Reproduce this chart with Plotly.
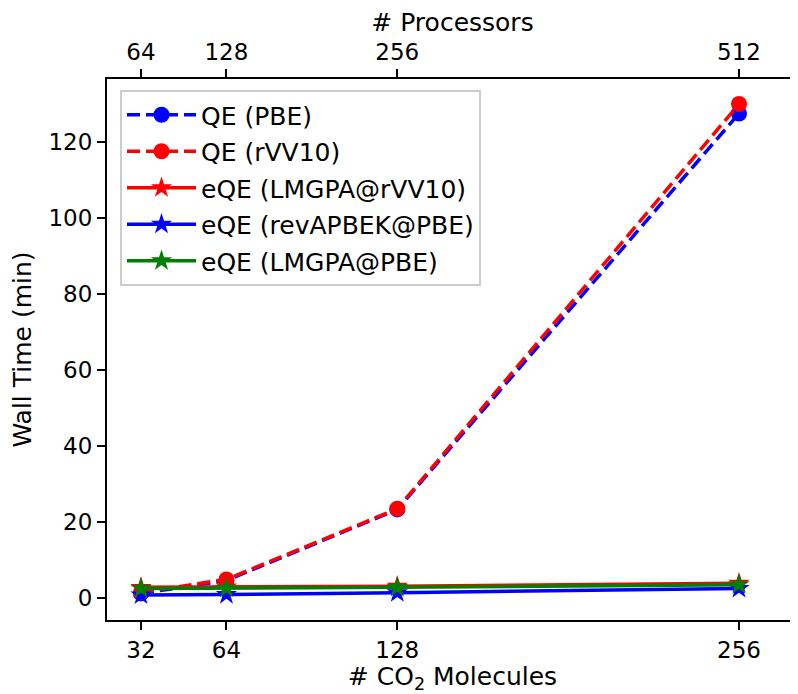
import plotly.graph_objects as go

# Data
molecules = [32, 64, 128, 256]
processors = ["64", "128", "256", "512"]
qe_pbe = [1.2, 4.6, 23.3, 127.5]
qe_rvv10 = [1.5, 4.9, 23.5, 130.0]
eqe_lmgpa_rvv10 = [2.8, 2.9, 3.1, 3.9]
eqe_revapbek_pbe = [0.8, 0.9, 1.4, 2.5]
eqe_lmgpa_pbe = [2.5, 2.6, 2.8, 3.5]

FONT = "DejaVu Sans"
FS = 23
FS_T = 25
LW = 3.5
DASH = "13px,6px"

fig = go.Figure()

def add(y, name, color, dashed, symbol, msize, group):
    fig.add_trace(go.Scatter(
        x=molecules, y=y, name=name, mode="lines+markers",
        line=dict(color=color, width=LW, dash=DASH if dashed else "solid"),
        marker=dict(color=color, symbol=symbol, size=msize, line=dict(width=0)),
        legendgroup=group,
    ))

add(qe_pbe, "QE (PBE)", "#0000ff", True, "circle", 16, "a")
add(qe_rvv10, "QE (rVV10)", "#ff0000", True, "circle", 16, "b")
add(eqe_lmgpa_rvv10, "eQE (LMGPA@rVV10)", "#ff0000", False, "star", 16, "c")
add(eqe_revapbek_pbe, "eQE (revAPBEK@PBE)", "#0000ff", False, "star", 16, "d")
add(eqe_lmgpa_pbe, "eQE (LMGPA@PBE)", "#008000", False, "star", 16, "e")

# invisible trace to activate top axis
fig.add_trace(go.Scatter(x=molecules, y=qe_pbe, xaxis="x2", mode="markers",
                         marker=dict(opacity=0, size=1), showlegend=False, hoverinfo="skip"))

xr = [19.26, 278.1]
yr = [-5.79, 136.58]

axis_common = dict(showline=True, linecolor="black", linewidth=2, ticks="outside",
                   ticklen=8, tickwidth=1.5, tickcolor="black", showgrid=False,
                   zeroline=False, automargin=False,
                   tickfont=dict(family=FONT, size=FS, color="black"))

W, H = 790, 686
L, T, B = 99, 71, 74
fig.update_layout(
    width=W, height=H,
    margin=dict(l=L, r=0, t=T, b=B),
    paper_bgcolor="white", plot_bgcolor="white",
    font=dict(family=FONT, size=FS, color="black"),
    xaxis=dict(range=xr, tickvals=molecules, ticktext=[str(m) for m in molecules],
               title=dict(text="# CO<sub>2</sub> Molecules", font=dict(family=FONT, size=FS_T), standoff=0),
               **axis_common),
    xaxis2=dict(range=xr, overlaying="x", side="top", anchor="y", tickvals=molecules,
                ticktext=processors,
                title=dict(text="# Processors", font=dict(family=FONT, size=FS_T), standoff=0),
                **axis_common),
    yaxis=dict(range=yr, tickvals=[0, 20, 40, 60, 80, 100, 120],
               title=dict(text="Wall Time (min)", font=dict(family=FONT, size=FS_T), standoff=10),
               **axis_common),
    legend=dict(x=13 / (W - L), y=1 - 11 / (H - T - B), xanchor="left", yanchor="top",
                bgcolor="rgba(255,255,255,0.8)", bordercolor="#cccccc", borderwidth=2,
                font=dict(family=FONT, size=FS_T, color="black"), tracegroupgap=1,
                itemwidth=69),
    showlegend=True,
)

fig.write_html("out.html")
